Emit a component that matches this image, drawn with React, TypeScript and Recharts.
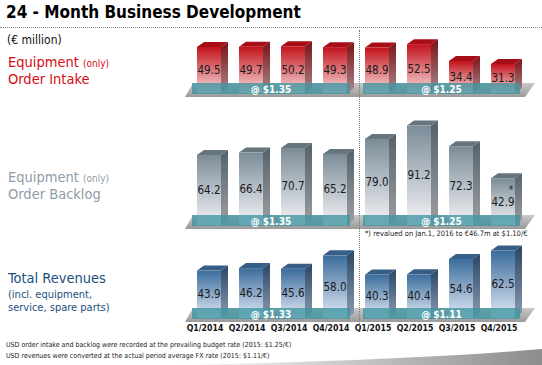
import React from "react";
import { BarChart, Bar, XAxis, YAxis } from "recharts";

// quarters and values (€ million)
const quarters = ["Q1/2014", "Q2/2014", "Q3/2014", "Q4/2014", "Q1/2015", "Q2/2015", "Q3/2015", "Q4/2015"];
const orderIntake = [49.5, 49.7, 50.2, 49.3, 48.9, 52.5, 34.4, 31.3];
const orderBacklog = [64.2, 66.4, 70.7, 65.2, 79.0, 91.2, 72.3, 42.9];
const backlogNotes = ["", "", "", "", "", "", "", "*"];
const revenues = [43.9, 46.2, 45.6, 58.0, 40.3, 40.4, 54.6, 62.5];
const intakeRates = ["@ $1.35", "@ $1.25"];
const backlogRates = ["@ $1.35", "@ $1.25"];
const revenueRates = ["@ $1.33", "@ $1.11"];

const W = 542;
const LEFT = 188;
const RIGHT = 18;
const BAND = 42;
const DX = 7;
const DY = 5;
const FONT = '"DejaVu Sans Condensed", "DejaVu Sans", Verdana, sans-serif';

type Palette = { frontTop: string; frontBottom: string; sideTop: string; sideBottom: string; top: string };

const red: Palette = { frontTop: "#c3121b", frontBottom: "#f6dcdd", sideTop: "#7c1116", sideBottom: "#a88a8c", top: "#a50e16" };
const gray: Palette = { frontTop: "#7b8c98", frontBottom: "#f4f4f7", sideTop: "#55626b", sideBottom: "#9c9fa3", top: "#66747e" };
const blue: Palette = { frontTop: "#3b6c9c", frontBottom: "#e2eaf6", sideTop: "#2a4766", sideBottom: "#8c9bb0", top: "#375e86" };

function Bar3D(props: any) {
  const { x, y, width, height, index, payload, palette, gid } = props;
  if (!height || height <= 0) return null;
  const p: Palette = palette;
  const f = `${gid}-f-${index}`;
  const s = `${gid}-s-${index}`;
  const cx = x + width / 2;
  const cy = y + height / 2;
  return (
    <g>
      <defs>
        <linearGradient id={f} x1="0" y1="0" x2="0" y2="1">
          <stop offset="0%" stopColor={p.frontTop} />
          <stop offset="100%" stopColor={p.frontBottom} />
        </linearGradient>
        <linearGradient id={s} x1="0" y1="0" x2="0" y2="1">
          <stop offset="0%" stopColor={p.sideTop} />
          <stop offset="100%" stopColor={p.sideBottom} />
        </linearGradient>
      </defs>
      <polygon
        points={`${x},${y} ${x + DX},${y - DY} ${x + width + DX},${y - DY} ${x + width},${y}`}
        fill={p.top}
      />
      <polygon
        points={`${x + width},${y} ${x + width + DX},${y - DY} ${x + width + DX},${y + height - DY} ${x + width},${y + height}`}
        fill={`url(#${s})`}
      />
      <rect x={x} y={y} width={width} height={height} fill={`url(#${f})`} />
      <text x={cx} y={cy} textAnchor="middle" dominantBaseline="central" fontFamily={FONT} fontSize={11.5} fill="#1a1a1a">
        {payload.value.toFixed(1)}
      </text>
      {payload.note ? (
        <text x={cx + 8} y={cy - 9} textAnchor="middle" fontFamily={FONT} fontSize={10} fill="#1a1a1a">
          {payload.note}
        </text>
      ) : null}
    </g>
  );
}

function Floor({ floor }: { floor: number }) {
  const t = floor - 10;
  const b = floor + 4;
  return (
    <svg style={{ position: "absolute", left: 0, top: 0 }} width={W} height={365}>
      <defs>
        <linearGradient id={`floor-${floor}`} x1="0" y1="0" x2="0" y2="1">
          <stop offset="0%" stopColor="#c9c9c9" />
          <stop offset="100%" stopColor="#9a9a9a" />
        </linearGradient>
      </defs>
      <polygon points={`${LEFT + 5},${t} ${W - 7},${t} ${W - 17},${b} ${LEFT - 3},${b}`} fill={`url(#floor-${floor})`} />
    </svg>
  );
}

function RateBands({ floor, rates }: { floor: number; rates: string[] }) {
  const t = floor - 10;
  const h = 11;
  const bands = [
    [LEFT + 4, LEFT + 4 * BAND - 6],
    [LEFT + 4 * BAND + 7, LEFT + 8 * BAND - 4],
  ];
  return (
    <svg style={{ position: "absolute", left: 0, top: 0, pointerEvents: "none" }} width={W} height={365}>
      {bands.map(([a, b], i) => (
        <g key={i}>
          <rect x={a} y={t} width={b - a} height={h} fill="#3f95a1" fillOpacity={0.78} />
          <text x={(a + b) / 2} y={t + h / 2 + 0.5} textAnchor="middle" dominantBaseline="central" fontFamily={FONT} fontWeight="bold" fontSize={10} fill="#ffffff">
            {rates[i]}
          </text>
        </g>
      ))}
    </svg>
  );
}

function Panel(props: {
  values: number[];
  notes?: string[];
  floor: number;
  top: number;
  scale: number;
  palette: Palette;
  gid: string;
  rates: string[];
  showAxis?: boolean;
}) {
  const { values, notes, floor, top, scale, palette, gid, rates, showAxis } = props;
  const plotH = floor - top;
  const axisH = showAxis ? 24 : 0;
  const data = quarters.map((q, i) => ({ quarter: q, value: values[i], note: notes ? notes[i] : "" }));
  return (
    <>
      <Floor floor={floor} />
      <div style={{ position: "absolute", left: 0, top }}>
        <BarChart width={W} height={plotH + axisH} data={data} margin={{ top: 0, right: RIGHT, bottom: 0, left: LEFT }}>
          <XAxis
            dataKey="quarter"
            hide={!showAxis}
            height={axisH}
            axisLine={false}
            tickLine={false}
            tickSize={0}
            tickMargin={7}
            interval={0}
            dx={-4}
            tick={{ fontFamily: FONT, fontWeight: "bold", fontSize: 8.7, fill: "#111" }}
          />
          <YAxis hide domain={[0, plotH / scale]} allowDataOverflow />
          <Bar
            dataKey="value"
            barSize={24}
            isAnimationActive={false}
            shape={(p: any) => <Bar3D {...p} palette={palette} gid={gid} />}
          />
        </BarChart>
      </div>
      <RateBands floor={floor} rates={rates} />
    </>
  );
}

const abs = (left: number, top: number, extra: React.CSSProperties = {}): React.CSSProperties => ({
  position: "absolute",
  left,
  top,
  fontFamily: FONT,
  whiteSpace: "nowrap",
  lineHeight: 1,
  ...extra,
});

export default function App() {
  return (
    <div style={{ position: "absolute", left: 0, top: 0, width: W, height: 365, background: "#fff", overflow: "hidden" }}>
      <style>{`.recharts-surface{overflow:visible}`}</style>
      <div style={abs(6, 4, { fontSize: 17, fontWeight: "bold", color: "#000" })}>24 - Month Business Development</div>
      <div style={{ position: "absolute", left: 0, top: 27, width: W, borderTop: "1px dotted #888" }} />
      <div style={abs(7, 34, { fontSize: 12, color: "#111" })}>(€ million)</div>

      <div style={abs(8, 55, { fontSize: 14.5, color: "#d50d12" })}>
        Equipment <span style={{ fontSize: 10 }}>(only)</span>
      </div>
      <div style={abs(8, 72, { fontSize: 14.5, color: "#d50d12" })}>Order Intake</div>

      <div style={abs(8, 170, { fontSize: 14.5, color: "#8f9ba6" })}>
        Equipment <span style={{ fontSize: 10 }}>(only)</span>
      </div>
      <div style={abs(8, 187, { fontSize: 14.5, color: "#8f9ba6" })}>Order Backlog</div>

      <div style={abs(8, 271, { fontSize: 14.5, color: "#1b4f80" })}>Total Revenues</div>
      <div style={abs(8, 289, { fontSize: 11, color: "#1b4f80" })}>(incl. equipment,</div>
      <div style={abs(8, 302, { fontSize: 11, color: "#1b4f80" })}>service, spare parts)</div>

      <Panel values={orderIntake} floor={93} top={30} scale={0.93} palette={red} gid="oi" rates={intakeRates} />
      <Panel values={orderBacklog} notes={backlogNotes} floor={225} top={110} scale={1.09} palette={gray} gid="ob" rates={backlogRates} />
      <Panel values={revenues} floor={318} top={240} scale={1.08} palette={blue} gid="rv" rates={revenueRates} showAxis />

      <div style={{ position: "absolute", left: 359, top: 30, height: 298, borderLeft: "1.5px dotted #777" }} />

      <div style={abs(365, 230, { fontSize: 7.5, color: "#222" })}>*) revalued on Jan.1, 2016 to €46.7m at $1.10/€</div>

      <div style={abs(6, 342, { fontSize: 7, color: "#222" })}>
        USD order intake and backlog were recorded at the prevailing budget rate (2015: $1.25/€)
      </div>
      <div style={abs(6, 353, { fontSize: 7, color: "#222" })}>
        USD revenues were converted at the actual period average FX rate (2015: $1.11/€)
      </div>

      <svg style={{ position: "absolute", left: 0, top: 0 }} width={W} height={365}>
        <defs>
          <linearGradient id="swoosh" x1="0" y1="0" x2="1" y2="0">
            <stop offset="0%" stopColor="#ffffff" />
            <stop offset="100%" stopColor="#8c8c8c" />
          </linearGradient>
        </defs>
        <path d="M170,365 Q400,361 542,349 L542,365 Z" fill="url(#swoosh)" />
      </svg>
    </div>
  );
}
